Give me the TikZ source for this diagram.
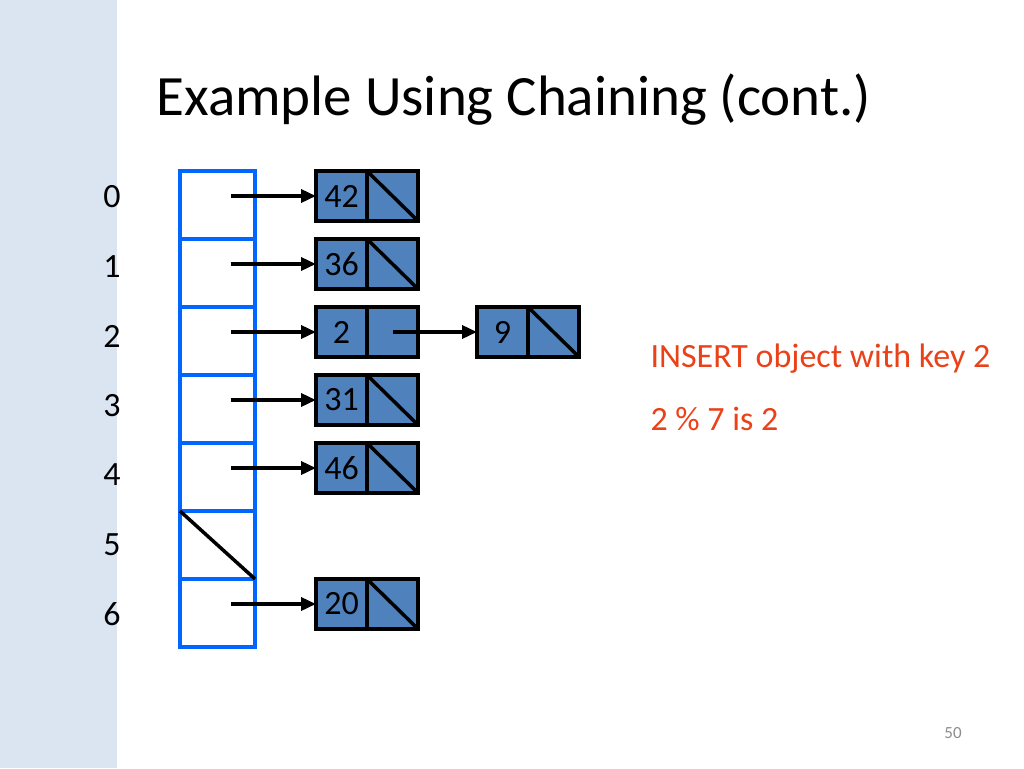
\documentclass[tikz,border=0pt]{standalone}
\usepackage{fontspec}
\setmainfont{Carlito}
\usepackage{tikz}
\usetikzlibrary{arrows.meta,positioning,calc}
\definecolor{cSide}{HTML}{DBE5F1}
\definecolor{cSlot}{HTML}{0066FF}
\definecolor{cCell}{HTML}{4F81BD}
\definecolor{cNote}{HTML}{EB4119}
\definecolor{cPage}{HTML}{8C8C8C}
\tikzset{
  slot/.style={draw=cSlot, line width=4pt, minimum width=75pt, minimum height=68pt, inner sep=0pt, outer sep=0pt},
  keycell/.style={draw=black, fill=cCell, line width=3.5pt, minimum width=51pt, minimum height=50pt,
                  inner sep=0pt, outer sep=0pt, font=\fontsize{34}{40}\selectfont},
  nextcell/.style={keycell},
  ptr/.style={-{Triangle[length=15pt,width=13pt]}, line width=3.5pt},
  nil/.style={line width=3.5pt},
  idx/.style={font=\fontsize{34}{40}\selectfont},
  note/.style={font=\fontsize{34}{40}\selectfont, text=cNote, anchor=base west},
}

\begin{document}
\begin{tikzpicture}[x=1pt, y=-1pt, node distance=18pt]
  \useasboundingbox (0,0) rectangle (1024,768);
  \fill[cSide] (0,0) rectangle (117,768);
  \node[anchor=base west, font=\fontsize{57}{68}\selectfont] (title) at (153,115) {Example Using Chaining (cont.)};

  \foreach \i in {0,...,6}
    \node[slot] (s\i) at (217.5,{205+68*\i}) {};
  \foreach \i in {0,...,6}
    \node[idx] (i\i) at (112,{197+69.5*\i}) {\i};
  \draw[nil] (s5.north west) -- (s5.south east);

  \node[keycell] (k42) at (341.5,196) {42};
  \node[keycell, below=of k42] (k36) {36};
  \node[keycell, below=of k36] (k2) {2};
  \node[keycell, below=of k2] (k31) {31};
  \node[keycell, below=of k31] (k46) {46};
  \node[keycell, below=86pt of k46] (k20) {20};
  \foreach \k in {42,36,2,31,46,20}
    \node[nextcell, right=0pt of k\k] (n\k) {};
  \node[keycell, right=59pt of n2] (k9) {9};
  \node[nextcell, right=0pt of k9] (n9) {};
  \foreach \k in {42,36,31,46,20,9}
    \draw[nil] (n\k.north west) -- (n\k.south east);

  \foreach \i/\k in {0/42,1/36,2/2,3/31,4/46,6/20}
    \draw[ptr] ($(k\k.west -| s\i.center)+(13,0)$) -- (k\k.west);
  \draw[ptr] (n2.center) -- (k9.west);

  \node[note] (ins) at (647,367) {INSERT object with key 2};
  \node[note] (mod) at (647,430) {2 \% 7 is 2};
  \node[font=\fontsize{17}{20}\selectfont, text=cPage] (pg) at (953,733) {50};
\end{tikzpicture}
\end{document}
